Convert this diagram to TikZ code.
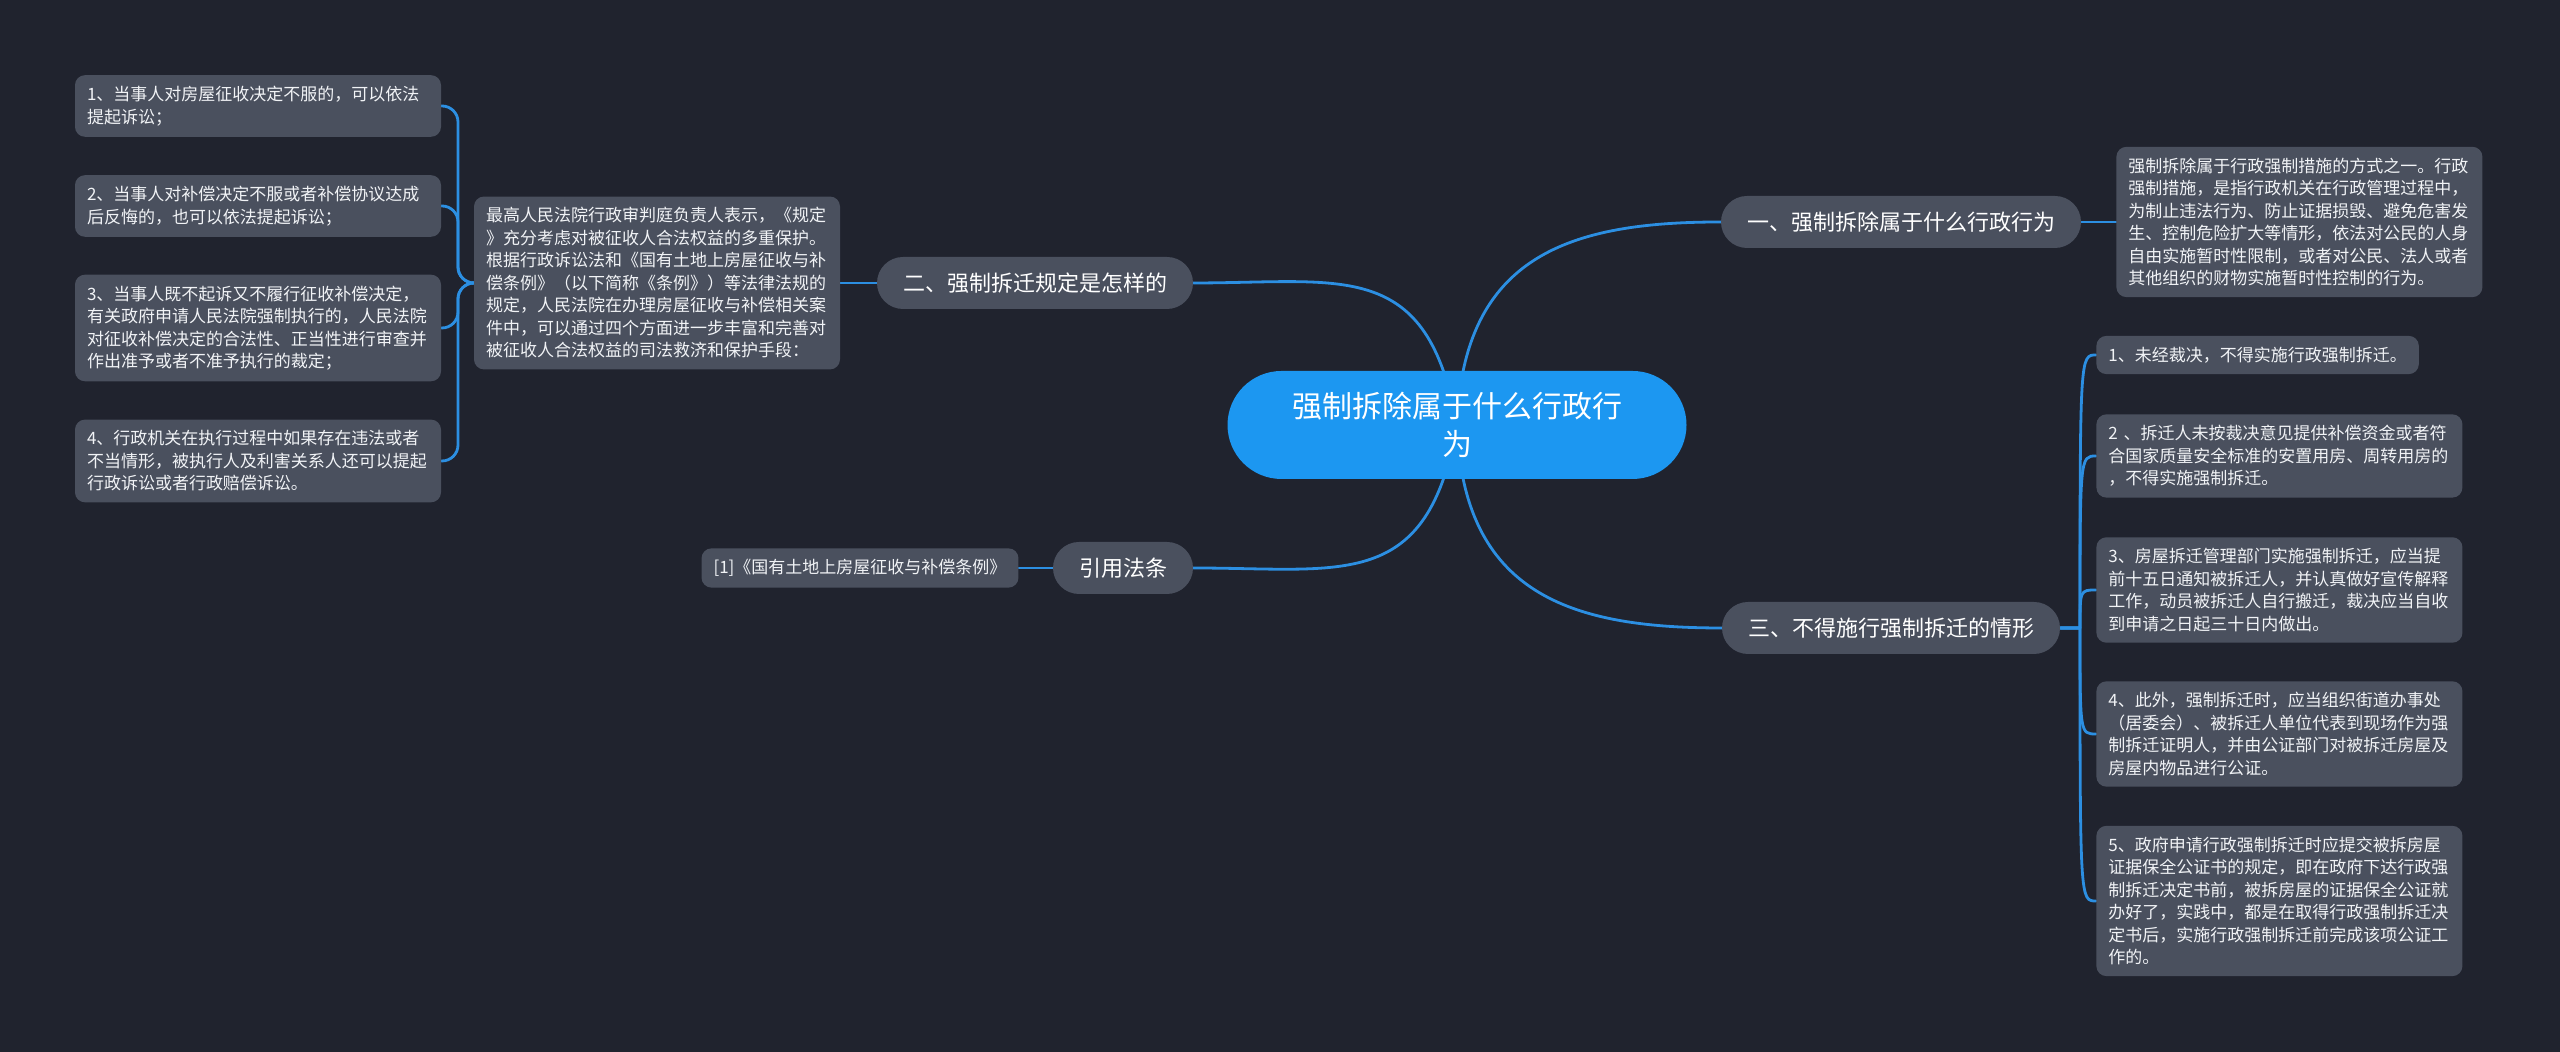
\documentclass[tikz,border=0pt]{standalone}
\usepackage{fontspec}
\setmainfont{Noto Sans CJK SC}
\usepackage{xcolor}
\usetikzlibrary{calc}
\definecolor{canvas}{HTML}{20232E}
\definecolor{card}{HTML}{4A505E}
\definecolor{rootblue}{HTML}{1C97F1}
\definecolor{linkblue}{HTML}{2C8FE2}
\definecolor{ink}{HTML}{F1F3F6}
\pgfdeclarelayer{canvaslayer}
\pgfdeclarelayer{wirelayer}
\pgfsetlayers{canvaslayer,wirelayer,main}
\tikzset{
  wire/.style={draw=linkblue, line width=1.4pt, line cap=round, line join=round},
  spoke/.style={wire, out distance=85pt, in distance=75pt},
  root/.style={
    rounded corners=27pt,
    fill=rootblue,
    text=white,
    align=center,
    minimum width=229.5pt,
    minimum height=54pt,
    font=\fontsize{15pt}{19pt}\selectfont
  },
  topic/.style={
    rounded corners=13pt,
    fill=card,
    text=white,
    minimum height=26pt,
    inner xsep=13pt,
    font=\fontsize{11pt}{13pt}\selectfont
  },
  leaf/.style={
    rounded corners=5pt,
    fill=card,
    text=ink,
    align=left,
    inner xsep=6pt,
    inner ysep=5.5pt,
    font=\fontsize{8.5pt}{11.25pt}\selectfont
  },
  wideleaf/.style={leaf, text width=171pt}
}

\begin{document}
\begin{tikzpicture}[x=0.5pt,y=0.5pt]
\begin{pgfonlayer}{canvaslayer}
  \fill[canvas] (0,0) rectangle (2560,1052);
\end{pgfonlayer}
\path[use as bounding box] (0,0) rectangle (2560,1052);

\node[root] (root) at (1457,627) {强制拆除属于什么行政行\\为};

% 一、right, top
\node[topic] (t1) at (1901,830) {一、强制拆除属于什么行政行为};
\node[wideleaf, anchor=west] (t1a) at (2116,830)
  {强制拆除属于行政强制措施的方式之一。行政\\强制措施，是指行政机关在行政管理过程中，\\为制止违法行为、防止证据损毁、避免危害发\\生、控制危险扩大等情形，依法对公民的人身\\自由实施暂时性限制，或者对公民、法人或者\\其他组织的财物实施暂时性控制的行为。};

% 二、left, top
\node[topic] (t2) at (1035,769) {二、强制拆迁规定是怎样的};
\node[wideleaf] (t2a) at (657,769)
  {最高人民法院行政审判庭负责人表示，《规定\\》充分考虑对被征收人合法权益的多重保护。\\根据行政诉讼法和《国有土地上房屋征收与补\\偿条例》（以下简称《条例》）等法律法规的\\规定，人民法院在办理房屋征收与补偿相关案\\件中，可以通过四个方面进一步丰富和完善对\\被征收人合法权益的司法救济和保护手段：};
\node[wideleaf] (t2b1) at (258,946) {1、当事人对房屋征收决定不服的，可以依法\\提起诉讼；};
\node[wideleaf] (t2b2) at (258,846) {2、当事人对补偿决定不服或者补偿协议达成\\后反悔的，也可以依法提起诉讼；};
\node[wideleaf] (t2b3) at (258,724) {3、当事人既不起诉又不履行征收补偿决定，\\有关政府申请人民法院强制执行的，人民法院\\对征收补偿决定的合法性、正当性进行审查并\\作出准予或者不准予执行的裁定；};
\node[wideleaf] (t2b4) at (258,591) {4、行政机关在执行过程中如果存在违法或者\\不当情形，被执行人及利害关系人还可以提起\\行政诉讼或者行政赔偿诉讼。};
\coordinate (fork2) at (458,769);

% 引用法条, left, bottom
\node[topic] (t4) at (1123,484) {引用法条};
\node[leaf] (t4a) at (860,484) {[1]《国有土地上房屋征收与补偿条例》};

% 三、right, bottom
\node[topic] (t3) at (1891,424) {三、不得施行强制拆迁的情形};
\node[leaf, anchor=west] (t3a) at (2096,697) {1、未经裁决，不得实施行政强制拆迁。};
\node[wideleaf, anchor=west] (t3b) at (2096,596) {2 、拆迁人未按裁决意见提供补偿资金或者符\\合国家质量安全标准的安置用房、周转用房的\\，不得实施强制拆迁。};
\node[wideleaf, anchor=west] (t3c) at (2096,462) {3、房屋拆迁管理部门实施强制拆迁，应当提\\前十五日通知被拆迁人，并认真做好宣传解释\\工作，动员被拆迁人自行搬迁，裁决应当自收\\到申请之日起三十日内做出。};
\node[wideleaf, anchor=west] (t3d) at (2096,318) {4、此外，强制拆迁时，应当组织街道办事处\\（居委会）、被拆迁人单位代表到现场作为强\\制拆迁证明人，并由公证部门对被拆迁房屋及\\房屋内物品进行公证。};
\node[wideleaf, anchor=west] (t3e) at (2096,151) {5、政府申请行政强制拆迁时应提交被拆房屋\\证据保全公证书的规定，即在政府下达行政强\\制拆迁决定书前，被拆房屋的证据保全公证就\\办好了，实践中，都是在取得行政强制拆迁决\\定书后，实施行政强制拆迁前完成该项公证工\\作的。};
\coordinate (fork3) at (2080,424);

\begin{pgfonlayer}{wirelayer}
  \draw[spoke] (root.center) to[out=88,in=180] (t1.west);
  \draw[spoke] (root.center) to[out=-88,in=180] (t3.west);
  \draw[spoke] (root.center) to[out=100,in=0] (t2.east);
  \draw[spoke] (root.center) to[out=-100,in=0] (t4.east);
  \draw[wire] (t1.east) -- (t1a.west);
  \draw[wire] (t4.west) -- (t4a.east);
  \draw[wire] (t2.west) -- (t2a.east);
  \foreach \n in {t2b1,t2b2,t2b3,t2b4}
    \draw[wire, rounded corners=8pt] (t2a.west) -- (fork2) |- (\n.east);
  \foreach \n in {t3a,t3b,t3c,t3d,t3e}
    \draw[wire] (t3.east) -- (fork3) .. controls (fork3 |- \n.west) .. (\n.west);
\end{pgfonlayer}
\end{tikzpicture}
\end{document}
